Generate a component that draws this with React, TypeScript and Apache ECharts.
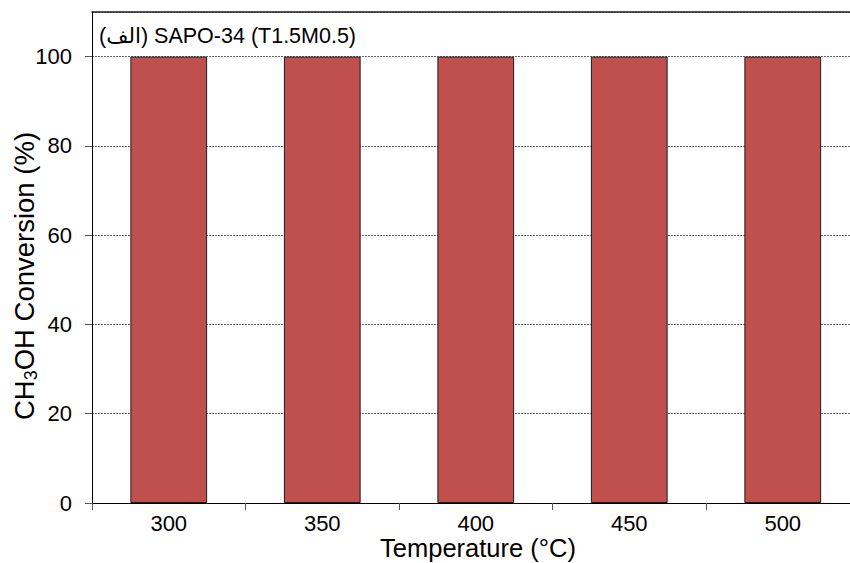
import React, { useEffect, useRef } from "react";
import * as echarts from "echarts";

const categories = ["300", "350", "400", "450", "500"];
const conversion = [100, 100, 100, 100, 100];
const titleText = "(الف) SAPO-34 (T1.5M0.5)";
const xName = "Temperature (°C)";
const yNameRich = "{a|CH}{s|3}{a|OH Conversion (%)}";

const FONT = "'Liberation Sans', Arial, 'DejaVu Sans', sans-serif";

export default function App() {
  const ref = useRef<HTMLDivElement>(null);
  useEffect(() => {
    if (!ref.current) return;
    const chart = echarts.init(ref.current, null, { renderer: "svg" });
    chart.setOption({
      animation: false,
      backgroundColor: "#fff",
      textStyle: { fontFamily: FONT },
      title: {
        text: titleText,
        left: 99,
        top: 25,
        padding: 0,
        textStyle: { fontSize: 21.5, fontWeight: "normal", color: "#000", fontFamily: FONT },
      },
      grid: {
        left: 92,
        top: 12,
        width: 767.5,
        height: 491,
        show: false,
        containLabel: false,
        outerBoundsMode: "none",
      },
      graphic: [
        {
          type: "text",
          x: 478,
          y: 548,
          style: {
            text: xName,
            fontSize: 25.5,
            lineHeight: 22,
            fontFamily: FONT,
            fill: "#000",
            align: "center",
            verticalAlign: "middle",
          },
        },
        {
          type: "text",
          x: 24,
          y: 276,
          rotation: Math.PI / 2,
          style: {
            text: yNameRich,
            fontSize: 27.5,
            fontFamily: FONT,
            fill: "#000",
            align: "center",
            verticalAlign: "middle",
            rich: {
              a: { fontSize: 27.5, fill: "#000", fontFamily: FONT },
              s: { fontSize: 18, fill: "#000", fontFamily: FONT, verticalAlign: "bottom", padding: [13, 0, 0, 0] },
            },
          },
        },
      ],
      xAxis: [
        {
          type: "category",
          data: categories,
          position: "bottom",
          axisLine: { show: true, lineStyle: { color: "#000", width: 1 } },
          axisTick: { show: true, length: 7, lineStyle: { color: "#555" } },
          axisLabel: { fontSize: 22, lineHeight: 18, color: "#000", margin: 11, fontFamily: FONT },
          splitLine: { show: false },
        },
        {
          type: "category",
          data: categories,
          position: "top",
          z: 10,
          axisLine: { show: true, lineStyle: { color: "#222", width: 1.5 } },
          axisTick: { show: false },
          axisLabel: { show: false },
          splitLine: { show: false },
        },
      ],
      yAxis: {
        type: "value",
        min: 0,
        max: 110,
        interval: 20,
        axisLine: { show: true, lineStyle: { color: "#000", width: 1 } },
        axisTick: { show: true, length: 7, lineStyle: { color: "#555" } },
        axisLabel: { fontSize: 22, color: "#000", margin: 20, showMaxLabel: false, fontFamily: FONT },
        splitLine: { show: true, lineStyle: { color: "#666", type: [2, 1], width: 1 } },
      },
      series: [
        {
          type: "bar",
          data: conversion,
          barWidth: "50%",
          itemStyle: { color: "#C0504D", borderColor: "#1a1a1a", borderWidth: 1 },
        },
      ],
    });
    return () => chart.dispose();
  }, []);
  return <div ref={ref} style={{ position: "fixed", left: 0, top: 0, width: 850, height: 563 }} />;
}
